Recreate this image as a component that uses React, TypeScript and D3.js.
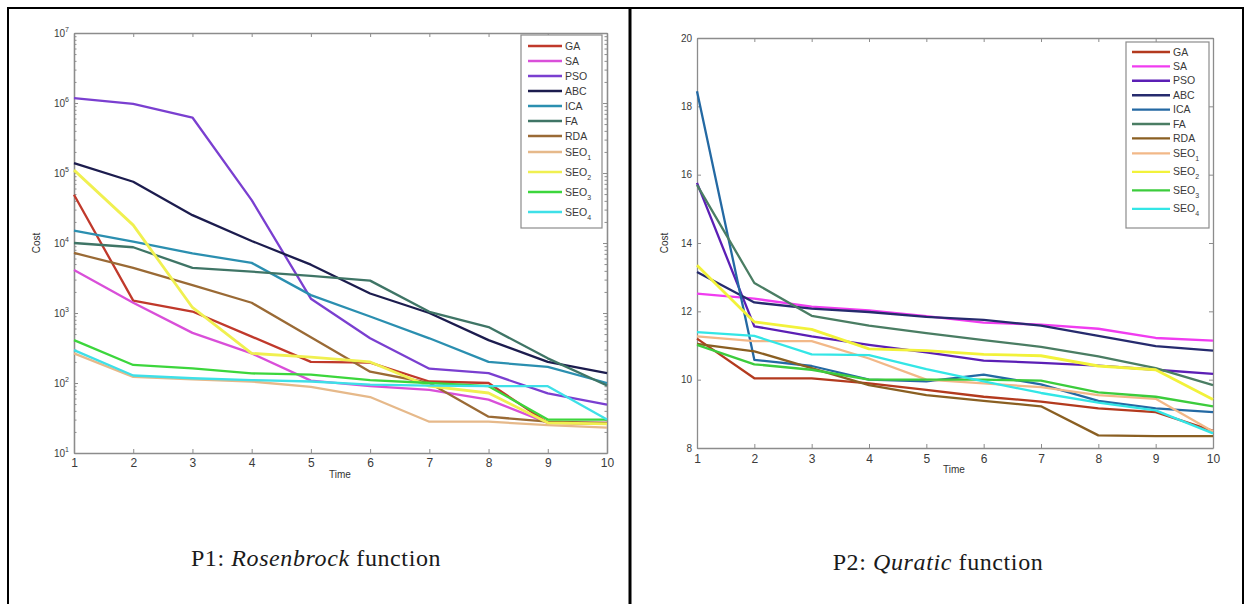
import React, { useRef, useEffect } from "react";
import * as d3 from "d3";

const times = [1, 2, 3, 4, 5, 6, 7, 8, 9, 10];
const seriesNames = ["GA", "SA", "PSO", "ABC", "ICA", "FA", "RDA", "SEO1", "SEO2", "SEO3", "SEO4"];

// P1: Rosenbrock (log cost)
const rosenGA = [4.9e4, 1.5e3, 1.05e3, 460, 200, 195, 105, 100, 27, 26];
const rosenSA = [4.1e3, 1.4e3, 520, 265, 108, 90, 80, 58, 27, 27];
const rosenPSO = [1.17e6, 9.7e5, 6.2e5, 4.1e4, 1.6e3, 435, 160, 138, 71, 49];
const rosenABC = [1.38e5, 7.5e4, 2.5e4, 1.07e4, 4.9e3, 1.9e3, 1.0e3, 410, 200, 138];
const rosenICA = [1.5e4, 1.05e4, 7.1e3, 5.2e3, 1.8e3, 890, 435, 200, 170, 100];
const rosenFA = [1.0e4, 8.7e3, 4.4e3, 3.9e3, 3.4e3, 2.9e3, 1.04e3, 630, 225, 92];
const rosenRDA = [7.2e3, 4.4e3, 2.5e3, 1.4e3, 450, 145, 100, 33, 28, 27];
const rosenSEO1 = [265, 122, 113, 105, 88, 63, 28, 28, 25, 23];
const rosenSEO2 = [1.1e5, 1.8e4, 1.2e3, 265, 235, 200, 90, 72, 27, 26];
const rosenSEO3 = [410, 181, 162, 137, 132, 110, 100, 90, 30, 30];
const rosenSEO4 = [295, 128, 117, 110, 105, 95, 92, 90, 90, 30];

// P2: Quratic (linear cost)
const quadGA = [11.2, 10.04, 10.04, 9.89, 9.7, 9.5, 9.36, 9.16, 9.05, 8.5];
const quadSA = [12.52, 12.37, 12.14, 12.03, 11.86, 11.67, 11.61, 11.49, 11.22, 11.14];
const quadPSO = [15.76, 11.56, 11.27, 11.02, 10.8, 10.56, 10.49, 10.41, 10.29, 10.17];
const quadABC = [13.15, 12.26, 12.08, 11.98, 11.84, 11.75, 11.58, 11.28, 10.98, 10.85];
const quadICA = [18.44, 10.58, 10.4, 10.0, 9.95, 10.15, 9.86, 9.38, 9.16, 9.05];
const quadFA = [15.7, 12.83, 11.87, 11.58, 11.36, 11.16, 10.96, 10.68, 10.34, 9.84];
const quadRDA = [11.05, 10.83, 10.34, 9.84, 9.55, 9.38, 9.22, 8.37, 8.35, 8.35];
const quadSEO1 = [11.27, 11.13, 11.13, 10.62, 10.0, 9.89, 9.78, 9.55, 9.44, 8.48];
const quadSEO2 = [13.35, 11.69, 11.47, 10.9, 10.85, 10.74, 10.7, 10.4, 10.29, 9.42];
const quadSEO3 = [11.02, 10.45, 10.29, 10.0, 10.0, 10.0, 9.97, 9.63, 9.5, 9.22];
const quadSEO4 = [11.39, 11.28, 10.74, 10.72, 10.31, 9.95, 9.61, 9.33, 9.1, 8.43];

const rosenColors = ["#c0392b", "#d94fd9", "#7a3fd0", "#1c1c4e", "#2b8fb0", "#3f7566", "#9a6a35", "#e6b98a", "#f0f050", "#3cd63c", "#3ee0e8"];
const quadColors = ["#b33a1e", "#f03cf0", "#5b1fb5", "#262b6e", "#2469a3", "#4a7d63", "#8a5f22", "#f2b888", "#f2f23a", "#3ccc3c", "#33e6e6"];

const logTicks = [10, 100, 1e3, 1e4, 1e5, 1e6, 1e7];
const linTicks = [8, 10, 12, 14, 16, 18, 20];

const FONT = "Liberation Sans, Arial, sans-serif";

function drawPanel(root: any, p: any) {
  const g = root.append("g");
  const x = d3.scaleLinear().domain([1, 10]).range([p.left, p.right]);
  const y = p.log
    ? d3.scaleLog().domain([10, 1e7]).range([p.bottom, p.top])
    : d3.scaleLinear().domain([8, 20]).range([p.bottom, p.top]);

  g.append("rect")
    .attr("x", p.left).attr("y", p.top)
    .attr("width", p.right - p.left).attr("height", p.bottom - p.top)
    .attr("fill", "#fff");

  const styleAxis = (a: any) => {
    a.select(".domain").attr("stroke", "#8c8c8c").attr("stroke-width", 1.3);
    a.selectAll(".tick line").attr("stroke", "#8c8c8c");
    a.selectAll(".tick text").attr("fill", "#3a3a3a").attr("font-family", FONT).attr("font-size", 12);
  };

  // x axes (bottom labelled, top ticks only)
  g.append("g").attr("transform", `translate(0,${p.bottom})`)
    .call(d3.axisBottom(x).tickValues(times).tickSizeInner(-4).tickSizeOuter(0).tickPadding(p.xPad).tickFormat(d3.format("d")))
    .call(styleAxis);
  g.append("g").attr("transform", `translate(0,${p.top})`)
    .call(d3.axisTop(x).tickValues(times).tickSizeInner(-4).tickSizeOuter(0).tickFormat(() => ""))
    .call(styleAxis);

  const majors = p.log ? logTicks : linTicks;
  const minors = p.log ? (y as any).ticks().filter((v: number) => !logTicks.includes(v)) : [];

  [[d3.axisLeft, p.left], [d3.axisRight, p.right]].forEach(([axisFn, pos]: any) => {
    g.append("g").attr("transform", `translate(${pos},0)`)
      .call(axisFn(y).tickValues(majors).tickSizeInner(-4).tickSizeOuter(0).tickFormat(() => ""))
      .call(styleAxis);
    if (minors.length) {
      g.append("g").attr("transform", `translate(${pos},0)`)
        .call(axisFn(y).tickValues(minors).tickSizeInner(-2.5).tickSizeOuter(0).tickFormat(() => ""))
        .call(styleAxis);
    }
  });

  // y tick labels
  majors.forEach((v: number) => {
    const t = g.append("text")
      .attr("x", p.left - 5).attr("y", y(v) + 3.5)
      .attr("text-anchor", "end").attr("font-family", FONT)
      .attr("font-size", 10).attr("fill", "#3a3a3a");
    if (p.log) {
      t.append("tspan").text("10");
      t.append("tspan").attr("dy", -5).attr("font-size", 7).text(String(Math.round(Math.log10(v))));
    } else {
      t.text(String(v));
    }
  });

  // axis titles
  g.append("text")
    .attr("transform", `translate(${p.costX},${(p.top + p.bottom) / 2})rotate(-90)`)
    .attr("text-anchor", "middle").attr("font-family", FONT).attr("font-size", 10).attr("fill", "#333")
    .text("Cost");
  g.append("text")
    .attr("x", p.timeX).attr("y", p.bottom + 25)
    .attr("text-anchor", "middle").attr("font-family", FONT).attr("font-size", 10).attr("fill", "#333")
    .text("Time");

  // series
  const line = d3.line<number>().x((d, i) => x(times[i])).y((d) => y(d));
  p.series.forEach((s: number[], i: number) => {
    g.append("path")
      .datum(s)
      .attr("d", line)
      .attr("fill", "none")
      .attr("stroke", p.colors[i])
      .attr("stroke-width", seriesNames[i] === "SEO2" ? 2.8 : 2.3)
      .attr("stroke-linejoin", "round");
  });

  // legend
  const lg = p.legend;
  g.append("rect")
    .attr("x", lg.x).attr("y", lg.y).attr("width", lg.w).attr("height", lg.h)
    .attr("fill", "#fff").attr("stroke", "#8c8c8c").attr("stroke-width", 1.2);
  let ry = lg.y + lg.first;
  seriesNames.forEach((name, i) => {
    if (i > 0) ry += name.startsWith("SEO") ? (name === "SEO1" ? lg.seoFirst : lg.seoStep) : lg.step;
    g.append("line")
      .attr("x1", lg.x + lg.lineX0).attr("x2", lg.x + lg.lineX1)
      .attr("y1", ry).attr("y2", ry)
      .attr("stroke", p.colors[i]).attr("stroke-width", 2.4);
    const t = g.append("text")
      .attr("x", lg.x + lg.lineX1 + 3).attr("y", ry + 3.5)
      .attr("font-family", FONT).attr("font-size", 10.5).attr("fill", "#3a3a3a");
    if (name.startsWith("SEO")) {
      t.append("tspan").text("SEO");
      t.append("tspan").attr("dy", 4).attr("font-size", 7).text(name.slice(3));
    } else {
      t.text(name);
    }
  });

  // caption
  const cap = root.append("text")
    .attr("x", p.capX).attr("y", p.capY)
    .attr("text-anchor", "middle")
    .attr("font-family", "Liberation Serif, Times New Roman, serif")
    .attr("font-size", 24).attr("letter-spacing", 0.6).attr("fill", "#1a1a1a");
  cap.append("tspan").text(p.capPrefix + " ");
  cap.append("tspan").attr("font-style", "italic").text(p.capName);
  cap.append("tspan").text(" function");
}

export default function App() {
  const ref = useRef<SVGSVGElement>(null);

  useEffect(() => {
    const svg = d3.select(ref.current);
    svg.selectAll("*").remove();

    svg.append("rect").attr("width", 1247).attr("height", 604).attr("fill", "#fff");

    drawPanel(svg, {
      log: true,
      left: 74, right: 607, top: 33, bottom: 453,
      xPad: 5.5,
      series: [rosenGA, rosenSA, rosenPSO, rosenABC, rosenICA, rosenFA, rosenRDA, rosenSEO1, rosenSEO2, rosenSEO3, rosenSEO4],
      colors: rosenColors,
      legend: { x: 521, y: 35, w: 81, h: 193, first: 11, step: 15, seoFirst: 16, seoStep: 20, lineX0: 7, lineX1: 41 },
      costX: 40, timeX: 340,
      capX: 316, capY: 566, capPrefix: "P1:", capName: "Rosenbrock",
    });

    drawPanel(svg, {
      log: false,
      left: 697, right: 1213, top: 38, bottom: 448,
      xPad: 6,
      series: [quadGA, quadSA, quadPSO, quadABC, quadICA, quadFA, quadRDA, quadSEO1, quadSEO2, quadSEO3, quadSEO4],
      colors: quadColors,
      legend: { x: 1126, y: 42, w: 83, h: 186, first: 10, step: 14.4, seoFirst: 15, seoStep: 18.5, lineX0: 6, lineX1: 44 },
      costX: 668, timeX: 954,
      capX: 938, capY: 570, capPrefix: "P2:", capName: "Quratic",
    });

    // outer frame
    const frame = svg.append("g").attr("stroke", "#000");
    frame.append("line").attr("x1", 7).attr("x2", 1244).attr("y1", 8).attr("y2", 8).attr("stroke-width", 2);
    frame.append("line").attr("x1", 8).attr("x2", 8).attr("y1", 7).attr("y2", 604).attr("stroke-width", 2);
    frame.append("line").attr("x1", 630).attr("x2", 630).attr("y1", 7).attr("y2", 604).attr("stroke-width", 3);
    frame.append("line").attr("x1", 1243).attr("x2", 1243).attr("y1", 7).attr("y2", 604).attr("stroke-width", 2);
  }, []);

  return (
    <svg
      ref={ref}
      width={1247}
      height={604}
      style={{ position: "absolute", left: 0, top: 0, display: "block" }}
    />
  );
}
